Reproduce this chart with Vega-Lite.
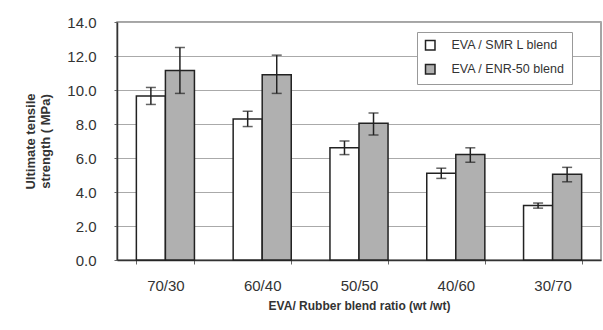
{
  "$schema": "https://vega.github.io/schema/vega-lite/v6.json",
  "autosize": "none",
  "width": 484,
  "height": 238,
  "padding": {"left": 117, "top": 22, "right": 2, "bottom": 70},
  "background": "white",
  "config": {
    "font": "Liberation Sans",
    "view": {"stroke": "#888", "strokeWidth": 1.5},
    "axisY": {
      "labelOverlap": false, "labelBound": false, "format": ".1f",
      "values": [0, 2, 4, 6, 8, 10, 12, 14],
      "titleFontSize": 13, "titleFontWeight": "bold", "titleColor": "#333", "titlePadding": 14,
      "labelFontSize": 15, "labelColor": "#333", "labelPadding": 18,
      "domainColor": "#333", "domainWidth": 1.5, "tickColor": "#666", "tickSize": 3,
      "grid": true, "gridColor": "#aaa", "gridWidth": 1
    }
  },
  "data": {
    "values": [
      {"ratio": "70/30", "blend": "EVA / SMR L blend", "value": 9.65, "lo": 9.15, "hi": 10.15},
      {"ratio": "70/30", "blend": "EVA / ENR-50 blend", "value": 11.15, "lo": 9.8, "hi": 12.5},
      {"ratio": "60/40", "blend": "EVA / SMR L blend", "value": 8.3, "lo": 7.85, "hi": 8.75},
      {"ratio": "60/40", "blend": "EVA / ENR-50 blend", "value": 10.9, "lo": 9.8, "hi": 12.05},
      {"ratio": "50/50", "blend": "EVA / SMR L blend", "value": 6.6, "lo": 6.2, "hi": 7.0},
      {"ratio": "50/50", "blend": "EVA / ENR-50 blend", "value": 8.05, "lo": 7.35, "hi": 8.65},
      {"ratio": "40/60", "blend": "EVA / SMR L blend", "value": 5.1, "lo": 4.8, "hi": 5.4},
      {"ratio": "40/60", "blend": "EVA / ENR-50 blend", "value": 6.2, "lo": 5.75, "hi": 6.6},
      {"ratio": "30/70", "blend": "EVA / SMR L blend", "value": 3.2, "lo": 3.05, "hi": 3.35},
      {"ratio": "30/70", "blend": "EVA / ENR-50 blend", "value": 5.05, "lo": 4.6, "hi": 5.45}
    ]
  },
  "encoding": {
    "x": {
      "field": "ratio", "type": "nominal",
      "sort": ["70/30", "60/40", "50/50", "40/60", "30/70"],
      "scale": {"paddingInner": 0.4, "paddingOuter": 0.2},
      "axis": {
        "title": "EVA/ Rubber blend ratio (wt /wt)",
        "titleFontSize": 12, "titleFontWeight": "bold", "titleColor": "#333", "titlePadding": 7,
        "labelAngle": 0, "labelFontSize": 15, "labelColor": "#333", "labelPadding": 14,
        "domainColor": "#333", "domainWidth": 1.5, "tickColor": "#666", "tickSize": 4, "tickBand": "extent"
      }
    },
    "xOffset": {
      "field": "blend", "type": "nominal",
      "sort": ["EVA / SMR L blend", "EVA / ENR-50 blend"],
      "scale": {"paddingInner": 0, "paddingOuter": 0}
    }
  },
  "layer": [
    {
      "mark": {"type": "bar", "stroke": "#222", "strokeWidth": 1.5},
      "encoding": {
        "y": {
          "field": "value", "type": "quantitative",
          "scale": {"domain": [0, 14], "nice": false},
          "axis": {"title": ["Ultimate tensile", "strength ( MPa)"]}
        },
        "fill": {
          "field": "blend", "type": "nominal",
          "sort": ["EVA / SMR L blend", "EVA / ENR-50 blend"],
          "scale": {"range": ["#ffffff", "#b0b0b0"]},
          "legend": {
            "title": null, "orient": "none", "legendX": 300, "legendY": 10,
            "symbolType": "square", "symbolSize": 90, "symbolStrokeColor": "#222", "symbolStrokeWidth": 1.5,
            "labelFontSize": 12.5, "labelColor": "#333", "labelOffset": 15,
            "rowPadding": 8, "padding": 7,
            "strokeColor": "#999", "fillColor": "white"
          }
        }
      }
    },
    {
      "mark": {"type": "rule", "color": "#222", "strokeWidth": 1.5},
      "encoding": {
        "y": {"field": "lo", "type": "quantitative"},
        "y2": {"field": "hi"}
      }
    },
    {
      "mark": {"type": "tick", "color": "#222", "thickness": 1.5, "size": 10},
      "encoding": {"y": {"field": "lo", "type": "quantitative"}}
    },
    {
      "mark": {"type": "tick", "color": "#222", "thickness": 1.5, "size": 10},
      "encoding": {"y": {"field": "hi", "type": "quantitative"}}
    }
  ]
}
